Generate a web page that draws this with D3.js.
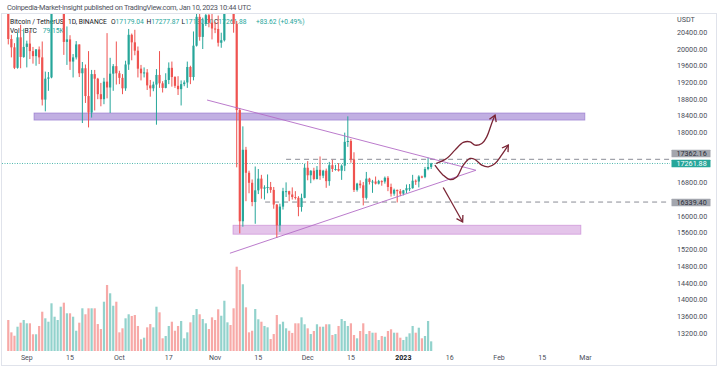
<!DOCTYPE html>
<html><head><meta charset="utf-8">
<script src="https://cdn.jsdelivr.net/npm/d3@7"></script>
<style>html,body{margin:0;padding:0;background:#fff;}svg{display:block;font-family:Roboto,"Open Sans",sans-serif;}</style>
</head><body><svg id="c" width="719" height="369"></svg>
<script>
// ---------------- DATA ----------------
const firstDay = "2022-08-26", lastDay = "2023-01-10";
const opens = [21560,20240,20040,19550,20280,19810,20050,20130,19950,19830,19990,19800,18790,19290,19320,21360,21650,21830,22400,20170,20230,19700,19800,20110,19420,19540,18875,18480,19400,19290,18920,18800,19220,19080,19410,19590,
19420,19310,19060,19630,20340,20160,19960,19530,19420,19440,19130,19060,19150,19380,19180,19070,19260,19550,19330,19120,19040,19160,19200,19570,19330,20080,20770,20290,20600,20810,20630,
20490,20480,20150,20210,21150,21300,20920,20600,18540,15880,17590,17040,16800,16340,16620,16900,16660,16690,16700,16630,16280,15780,16230,16600,16600,16520,16460,16440,16220,16440,
17160,16980,17090,16890,17110,16970,17090,16840,17220,17130,17130,17090,17210,17780,17800,17360,16630,16780,16740,16440,16900,16820,16830,16780,16840,16830,16920,16700,16540,16630,16600,
16540,16620,16670,16670,16850,16830,16950,16940,17130,17179.04];
const highs = [21870,20340,20140,20400,20580,20490,20200,20440,20050,20000,20060,20180,19460,19450,21560,21800,21860,22490,22800,20540,20330,19880,20190,20110,19690,19630,19950,19500,19500,19310,19190,19310,20380,19790,19640,20180,
19480,19400,19720,20480,20370,20460,20060,19620,19560,19520,19260,19220,19520,19950,19230,19420,19680,19700,19350,19350,19250,19250,19700,19600,20420,21020,20880,20750,21090,20930,20840,
20650,20800,20390,21300,21480,21360,21050,20670,18590,18150,17660,17090,16880,17190,17130,16990,16740,17000,16820,16700,16290,16300,16680,16810,16610,16690,16600,16480,16540,17250,
17320,17100,17160,17200,17430,17110,17140,17300,17350,17230,17270,17240,18000,18390,17850,17530,16800,16860,16820,17060,16920,16870,16950,16870,16860,16950,16960,16780,16660,16640,16650,
16630,16760,16770,16990,16880,16980,16970,17180,17400,17277.87];
const lows = [20110,19800,19520,19530,19540,19790,19560,19760,19650,19600,19640,18650,18510,19000,19300,21110,21360,21550,19860,19620,19500,19320,19750,19330,18230,18710,18125,18360,18530,18800,18630,18680,18820,18470,19000,19150,
19160,18920,19000,19500,19730,19850,19320,19250,19320,19020,18860,18990,18190,19070,18960,19060,19160,19100,19070,18900,18650,19110,19070,19160,19250,20060,20200,20000,20550,20520,20230,
20380,20060,20030,20180,21080,20920,20390,17170,15590,15750,16360,16550,16240,15820,16530,16420,16400,16550,16560,16180,15480,15630,16160,16460,16360,16400,16400,16000,16110,16430,
16860,16790,16860,16880,16870,16910,16680,16730,17060,17090,17070,16870,17080,17660,17280,16580,16590,16670,16260,16400,16760,16560,16760,16760,16730,16780,16600,16470,16490,16330,16480,
16500,16550,16600,16660,16750,16690,16910,16910,17100,17130];
const closes = [20240,20040,19550,20280,19810,20050,20130,19950,19830,19990,19800,18790,19290,19320,21360,21650,21830,22400,20170,20230,19700,19800,20110,19420,19540,18875,18480,19400,19290,18920,18800,19220,19080,19410,19590,19420,
19310,19060,19630,20340,20160,19960,19530,19420,19440,19130,19060,19150,19380,19180,19070,19260,19550,19330,19120,19040,19160,19200,19570,19330,20080,20770,20290,20600,20810,20630,20490,
20480,20150,20210,21150,21300,20920,20600,18540,15880,17590,17040,16800,16340,16620,16900,16660,16690,16700,16630,16280,15780,16230,16600,16600,16520,16460,16440,16220,16440,17160,
16980,17090,16890,17110,16970,17090,16840,17220,17130,17130,17090,17210,17780,17800,17360,16630,16780,16740,16440,16900,16820,16830,16780,16840,16830,16920,16700,16540,16630,16600,16540,
16620,16670,16670,16850,16830,16950,16940,17130,17178.26,17261.88];
// volume, thousands of BTC
const volumes = [254,153,125,199,232,254,227,227,137,137,205,322,268,240,391,281,254,363,396,309,309,281,166,232,350,301,350,350,350,221,180,404,541,473,371,404,
153,186,268,301,287,295,205,96,109,194,221,194,363,317,104,123,205,240,166,205,246,104,153,235,295,344,301,262,227,180,276,
254,342,289,412,235,213,350,691,664,547,358,153,166,344,260,240,205,194,98,139,295,219,240,186,166,148,227,227,276,219,
186,139,164,219,199,199,219,219,131,139,205,262,246,205,227,131,104,164,227,139,164,150,150,90,123,117,164,178,150,150,109,
90,117,145,205,150,191,104,123,246,79.15];

const priceTicks = [20400,20000,19600,19200,18800,18400,18000,17600,17200,16800,16400,16000,15600,15200,14800,14400,14000,13600,13200];
const timeTicks = ["2022-09-01","2022-09-15","2022-10-01","2022-10-17","2022-11-01","2022-11-15","2022-12-01","2022-12-15","2023-01-01","2023-01-16","2023-02-01","2023-02-15","2023-03-01"];
const timeLabels = ["Sep","15","Oct","17","Nov","15","Dec","15","2023","16","Feb","15","Mar"];

const lastPrice = 17261.88;
const levelLines = [{day:84, price:17362.16}, {day:77.2, price:16339.40}];
// drawing-tool anchors: [days after 2022-09-01, price]
const zones = [{d0:2.33, d1:180.8, p0:18300, p1:18470, kind:"res"}, {d0:66.8, d1:179.5, p0:15570, p1:15785, kind:"sup"}];
const triUpper = [[58.4,18780],[145.5,17100]];
const triLower = [[65.8,15115],[145.5,17100]];
const waveUp = [[132.55,17262],[136.0,17382],[138.7,17581],[141.4,17765],[143.6,17780],[145.2,17701],[147.4,17741],[149.0,17899],[150.6,18220],[151.7,18419]];
const waveMid = [[132.2,17222],[134.9,16982],[137.1,16879],[139.3,16941],[141.4,17222],[143.6,17382],[145.2,17358],[147.4,17222],[149.5,17181],[151.7,17262],[153.8,17461],[156.0,17701]];
const arrowDown = [[134.9,16687],[141.2,15863]];

// ---------------- CHART ----------------
const svg = d3.select("#c");
const parse = d3.utcParse("%Y-%m-%d");
const dates = d3.utcDay.range(parse(firstDay), d3.utcDay.offset(parse(lastDay), 1));
const bars = dates.map((d,i)=>({date:d,o:opens[i],h:highs[i],l:lows[i],c:closes[i],v:volumes[i],up:closes[i]>=opens[i]}));
const base = parse("2022-09-01");
const tday = d => new Date(+base + d*864e5);

const x = d3.scaleUtc().domain([parse("2022-09-01"), parse("2023-03-01")]).range([26.8, 585.5]);
const y = d3.scaleLinear().domain([13200,20400]).range([333.3,32.3]);
const yv = d3.scaleLinear().domain([0,1000]).range([351,229]);
const P = ([d,p]) => [x(tday(d)), y(p)];

const UP="#26a69a", DN="#ef5350";
const plotL=2, plotR=670, plotT=14, plotB=351;

svg.append("rect").attr("x",0).attr("y",0).attr("width",719).attr("height",369).attr("fill","#fff");
svg.append("rect").attr("x",1.5).attr("y",13.5).attr("width",715).attr("height",352).attr("fill","none").attr("stroke","#e0e3eb");

// header
svg.append("text").attr("x",7).attr("y",9.5).attr("font-size",7.4).attr("fill","#50535e")
  .attr("textLength",244).attr("lengthAdjust","spacing")
  .text("Coinpedia-Market-Insight published on TradingView.com, Jan 10, 2023 10:44 UTC");

const defs = svg.append("defs");
defs.append("clipPath").attr("id","pc").append("rect").attr("x",plotL).attr("y",plotT).attr("width",plotR-plotL).attr("height",plotB-plotT);

// legend (beneath candles)
const fmt = d3.format(".2f");
const last = bars[bars.length-1], prev = bars[bars.length-2];
const chg = last.c - prev.c;
const leg = svg.append("g").attr("font-size",6.7);
leg.append("text").attr("x",10).attr("y",24).attr("fill","#131722").text("Bitcoin / TetherUS");
leg.append("text").attr("x",68).attr("y",24).attr("fill","#131722").text("1D, BINANCE");
[["O",last.o,111],["H",last.h,146.5],["L",last.l,181.5],["C",last.c,214]].forEach(([k,v,px])=>{
  const t = leg.append("text").attr("x",px).attr("y",24);
  t.append("tspan").attr("fill","#131722").text(k);
  t.append("tspan").attr("fill",UP).text(fmt(v));
});
leg.append("text").attr("x",256).attr("y",24).attr("fill",UP).text(`+${fmt(chg)} (+${fmt(chg/prev.c*100)}%)`);
leg.append("text").attr("x",10).attr("y",33).attr("fill","#131722").text("Vol · BTC");
leg.append("text").attr("x",42.7).attr("y",33).attr("fill",UP).text(`${fmt(last.v)}K`);

const g = svg.append("g").attr("clip-path","url(#pc)");

// zones
g.selectAll("rect.zone").data(zones).join("rect")
  .attr("x",d=>x(tday(d.d0))).attr("width",d=>x(tday(d.d1))-x(tday(d.d0)))
  .attr("y",d=>y(d.p1)).attr("height",d=>y(d.p0)-y(d.p1))
  .attr("fill",d=>d.kind==="res"?"rgba(126,87,194,0.48)":"rgba(206,147,216,0.55)")
  .attr("stroke",d=>d.kind==="res"?"rgba(126,87,194,0.55)":"rgba(186,104,200,0.55)").attr("stroke-width",0.8);

// volume
g.selectAll("rect.vol").data(bars).join("rect")
  .attr("x",d=>x(d.date)-1.1).attr("width",2.2)
  .attr("y",d=>yv(d.v)).attr("height",d=>yv(0)-yv(d.v))
  .attr("fill",d=>d.up?"rgba(38,166,154,0.5)":"rgba(239,83,80,0.5)");

// current price line
g.append("line").attr("x1",plotL).attr("x2",plotR).attr("y1",y(lastPrice)).attr("y2",y(lastPrice))
  .attr("stroke",UP).attr("stroke-width",0.8).attr("stroke-dasharray","1,1.5");

// level dashed lines
g.selectAll("line.lvl").data(levelLines).join("line")
  .attr("x1",d=>x(tday(d.day))).attr("x2",plotR).attr("y1",d=>y(d.price)).attr("y2",d=>y(d.price))
  .attr("stroke","#8a8d96").attr("stroke-width",1).attr("stroke-dasharray","5,4");

// candles
const cg = g.append("g");
cg.selectAll("line.wick").data(bars).join("line")
  .attr("x1",d=>x(d.date)).attr("x2",d=>x(d.date)).attr("y1",d=>y(d.h)).attr("y2",d=>y(d.l))
  .attr("stroke",d=>d.up?UP:DN).attr("stroke-width",1);
cg.selectAll("rect.body").data(bars).join("rect")
  .attr("x",d=>x(d.date)-1.1).attr("width",2.2)
  .attr("y",d=>y(Math.max(d.o,d.c))).attr("height",d=>Math.max(1,Math.abs(y(d.o)-y(d.c))))
  .attr("fill",d=>d.up?UP:DN);

// triangle
const triColor = "#b36cc6";
[triUpper, triLower].forEach(seg=>{
  g.append("path").attr("d",d3.line()(seg.map(P))).attr("fill","none").attr("stroke",triColor).attr("stroke-width",0.9);
});

// arrows
const arrColor = "#7a2535";
function arrowHead(pts){
  const a = pts[pts.length-2], b = pts[pts.length-1];
  const ang = Math.atan2(b[1]-a[1], b[0]-a[0]);
  const L = 7, sp = 0.55;
  const p1 = [b[0]-L*Math.cos(ang-sp), b[1]-L*Math.sin(ang-sp)];
  const p2 = [b[0]-L*Math.cos(ang+sp), b[1]-L*Math.sin(ang+sp)];
  return `M${p1}L${b}L${p2}`;
}
[waveUp, waveMid].forEach(w=>{
  const pts = w.map(P);
  g.append("path").attr("d",d3.line().curve(d3.curveCatmullRom)(pts)).attr("fill","none").attr("stroke",arrColor).attr("stroke-width",1.3);
  g.append("path").attr("d",arrowHead(pts)).attr("fill","none").attr("stroke",arrColor).attr("stroke-width",1.3);
});
{
  const pts = arrowDown.map(P);
  g.append("path").attr("d",d3.line()(pts)).attr("fill","none").attr("stroke",arrColor).attr("stroke-width",1.3);
  g.append("path").attr("d",arrowHead(pts)).attr("fill","none").attr("stroke",arrColor).attr("stroke-width",1.3);
}

// price labels (layout)
const tealY = y(lastPrice);
const labels = [
  {p:levelLines[0].price, cy: Math.min(y(levelLines[0].price), tealY-10), bg:"#a3a6ae", fg:"#2a2e39"},
  {p:lastPrice, cy: tealY, bg:UP, fg:"#fff"},
  {p:levelLines[1].price, cy: y(levelLines[1].price)+0.5, bg:"#a3a6ae", fg:"#2a2e39"}
];

// price axis (ticks hidden where a price label covers them)
const ax = svg.append("g").attr("font-size",7.2).attr("fill","#4a4e59");
ax.append("text").attr("x",677).attr("y",21.5).text("USDT");
ax.selectAll("text.pt").data(priceTicks.filter(p=>labels.every(l=>Math.abs(y(p)-l.cy)>8)))
  .join("text").attr("x",677).attr("y",d=>y(d)+2.5).text(d=>fmt(d));

const lg = svg.append("g");
labels.forEach(l=>{
  lg.append("rect").attr("x",671.5).attr("y",l.cy-3.8).attr("width",39).attr("height",7.6).attr("fill",l.bg).attr("rx",0.5);
  lg.append("text").attr("x",676.5).attr("y",l.cy+2.5).attr("font-size",7.2).attr("fill",l.fg).text(fmt(l.p));
});

// time axis
const tx = svg.append("g").attr("font-size",7).attr("text-anchor","middle");
timeTicks.forEach((t,i)=>{
  const bold = timeLabels[i]==="2023";
  tx.append("text").attr("x",x(parse(t))).attr("y",359.5).attr("font-weight",bold?"bold":null).attr("fill",bold?"#131722":"#4a4e59").text(timeLabels[i]);
});
</script></body></html>
